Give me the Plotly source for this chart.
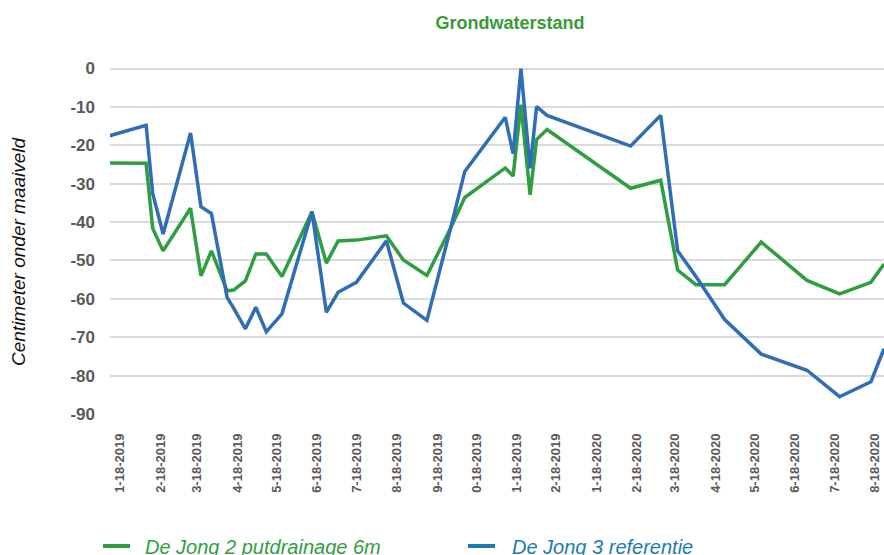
import plotly.graph_objects as go

# ---- data ----
dates = [
    "2019-01-10", "2019-02-07", "2019-02-12", "2019-02-20", "2019-03-13",
    "2019-03-21", "2019-03-29", "2019-04-10", "2019-04-15", "2019-04-24",
    "2019-05-02", "2019-05-10", "2019-05-22", "2019-06-14", "2019-06-25",
    "2019-07-04", "2019-07-18", "2019-08-10", "2019-08-23", "2019-09-10",
    "2019-09-28", "2019-10-09", "2019-11-09", "2019-11-15", "2019-11-21",
    "2019-11-28", "2019-12-03", "2019-12-11", "2020-02-13", "2020-03-07",
    "2020-03-20", "2020-04-03", "2020-04-25", "2020-05-23", "2020-06-27",
    "2020-07-22", "2020-08-15", "2020-08-25",
]
de_jong_2 = [
    -24.6, -24.7, -41.6, -47.5, -36.4,
    -54.0, -47.5, -57.9, -57.7, -55.3,
    -48.3, -48.3, -54.2, -37.3, -50.7,
    -44.9, -44.7, -43.6, -49.9, -53.9,
    -41.7, -33.6, -25.9, -28.0, -9.4,
    -32.9, -18.5, -15.9, -31.2, -29.1,
    -52.5, -56.3, -56.3, -45.2, -55.2,
    -58.7, -55.7, -50.9,
]
de_jong_3 = [
    -17.5, -14.8, -32.5, -43.1, -16.8,
    -36.0, -37.8, -59.6, -62.4, -67.8,
    -62.2, -68.6, -63.9, -37.3, -63.5,
    -58.3, -55.7, -44.9, -61.1, -65.6,
    -41.8, -26.8, -12.7, -22.2, 0.0,
    -26.0, -9.9, -12.2, -20.2, -12.2,
    -47.5, -54.2, -65.4, -74.4, -78.6,
    -85.5, -81.6, -73.0,
]
series_names = ["De Jong 2 putdrainage 6m", "De Jong 3 referentie"]

tick_dates = [
    "2019-01-18", "2019-02-18", "2019-03-18", "2019-04-18", "2019-05-18",
    "2019-06-18", "2019-07-18", "2019-08-18", "2019-09-18", "2019-10-18",
    "2019-11-18", "2019-12-18", "2020-01-18", "2020-02-18", "2020-03-18",
    "2020-04-18", "2020-05-18", "2020-06-18", "2020-07-18", "2020-08-18",
]
tick_labels = [
    "1-18-2019", "2-18-2019", "3-18-2019", "4-18-2019", "5-18-2019",
    "6-18-2019", "7-18-2019", "8-18-2019", "9-18-2019", "0-18-2019",
    "1-18-2019", "2-18-2019", "1-18-2020", "2-18-2020", "3-18-2020",
    "4-18-2020", "5-18-2020", "6-18-2020", "7-18-2020", "8-18-2020",
]
y_ticks = [0, -10, -20, -30, -40, -50, -60, -70, -80, -90]
y_labels = ["0", "-10", "-20", "-30", "-40", "-50", "-60", "-70", "-80", "-90"]

# ---- styles ----
GREEN = "#2f9e41"
BLUE = "#2f6db5"
LEG_BLUE = "#1b7bb3"
FONT = "Liberation Sans, Arial, sans-serif"

W, H = 884, 555
L, R, T, B = 110, 0, 67, 141
pw, ph = W - L - R, H - T - B

fig = go.Figure()
fig.add_trace(go.Scatter(x=dates, y=de_jong_2, mode="lines", name=series_names[0],
                         line=dict(color=GREEN, width=3.5), showlegend=False))
fig.add_trace(go.Scatter(x=dates, y=de_jong_3, mode="lines", name=series_names[1],
                         line=dict(color=BLUE, width=3.5), showlegend=False))


def px_x(x):
    return (x - L) / pw


def px_y(y):
    return (H - B - y) / ph


# manual legend
legend_items = [
    (103, 130, 143, GREEN, GREEN, series_names[0]),
    (468, 495, 510, LEG_BLUE, LEG_BLUE, series_names[1]),
]
for x0, x1, xt, lc, tc, txt in legend_items:
    fig.add_shape(type="line", xref="paper", yref="paper",
                  x0=px_x(x0), x1=px_x(x1), y0=px_y(546), y1=px_y(546),
                  line=dict(color=lc, width=4))
    fig.add_annotation(xref="paper", yref="paper", x=px_x(xt), y=px_y(546.5),
                       xanchor="left", yanchor="middle", showarrow=False,
                       text=txt, font=dict(family=FONT, size=20, color=tc,
                                           style="italic"))

# y-axis title
fig.add_annotation(xref="paper", yref="paper", x=px_x(18), y=px_y(251),
                   xanchor="center", yanchor="middle", showarrow=False,
                   text="Centimeter onder maaiveld", textangle=-90,
                   font=dict(family=FONT, size=19, color="#111111",
                             style="italic"))

fig.update_layout(
    width=W, height=H,
    margin=dict(l=L, r=R, t=T, b=B, pad=0),
    paper_bgcolor="white", plot_bgcolor="white",
    title=dict(text="<b>Grondwaterstand</b>", x=510 / W, xanchor="center",
               xref="container", y=1 - 23 / H, yanchor="middle", yref="container",
               font=dict(family=FONT, size=18, color="#3a9a36")),
    showlegend=False,
)
fig.update_xaxes(
    type="date", range=["2019-01-10 08:00", "2020-08-25"],
    tickmode="array", tickvals=tick_dates, ticktext=tick_labels,
    tickangle=-90, showgrid=False, showline=False, zeroline=False,
    ticks="", ticklabelstandoff=16, automargin=False,
    tickfont=dict(family=FONT, size=13, color="#595959", weight="bold"),
)
fig.update_yaxes(
    range=[-90, 0.4], tickmode="array", tickvals=y_ticks, ticktext=y_labels,
    showgrid=True, gridcolor="#dadada", gridwidth=1.5, zeroline=False,
    showline=False, ticks="", ticklabelstandoff=14, automargin=False,
    tickfont=dict(family=FONT, size=17, color="#595959", weight="bold"),
)

fig.write_html(
    "out.html",
    config={"displayModeBar": False},
    post_script="document.body.style.margin='0';document.body.style.padding='0';"
                "document.documentElement.style.overflow='hidden';",
)
